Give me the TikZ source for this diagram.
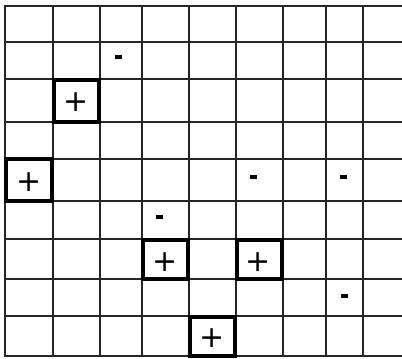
\documentclass[tikz,border=0pt]{standalone}
\usepackage{fontspec}
\newfontfamily\signfont{DejaVu Sans}
\begin{document}
\begin{tikzpicture}[x=1pt,y=-1pt,
  gridline/.style={line width=2pt, draw=black!85},
  boldbox/.style={line width=3.2pt, draw=black},
  plussign/.style={inner sep=0pt, font=\signfont\fontsize{30}{30}\selectfont},
  minussign/.style={inner sep=0pt, fill=black, minimum width=7pt, minimum height=3.5pt}]
\fill[white] (0,0) rectangle (402,359);
\useasboundingbox (0,0) rectangle (402,359);
% grid
\foreach \y in {6,42,79,122,159,201,239,279,316,356}
  \draw[gridline] (4,\y) -- (402,\y);
\foreach \x in {5,53,100,142,189,236,283,326,363}
  \draw[gridline] (\x,5) -- (\x,357);
% highlighted cells
\draw[boldbox] (54,80) rectangle (99,122);
\draw[boldbox] (6,159) rectangle (52,201);
\draw[boldbox] (143,240) rectangle (188,279);
\draw[boldbox] (237,240) rectangle (282,279);
\draw[boldbox] (190,317) rectangle (235,356);
% plus signs
\node[plussign] (p1) at (76,102) {+};
\node[plussign] (p2) at (29,182) {+};
\node[plussign] (p3) at (165,262) {+};
\node[plussign] (p4) at (258,262) {+};
\node[plussign] (p5) at (212,338) {+};
% minus signs
\node[minussign] (m1) at (118,57) {};
\node[minussign] (m2) at (253,177) {};
\node[minussign] (m3) at (343,177) {};
\node[minussign] (m4) at (159,217) {};
\node[minussign] (m5) at (344,296) {};
\end{tikzpicture}
\end{document}
